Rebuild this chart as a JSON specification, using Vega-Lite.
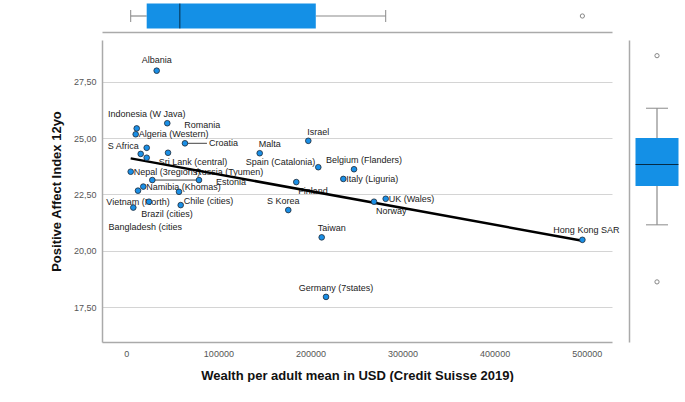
{
  "$schema": "https://vega.github.io/schema/vega-lite/v6.json",
  "background": "white",
  "padding": {"left": 50, "top": 0, "right": 0, "bottom": 0},
  "config": {
    "view": {"stroke": null},
    "font": "Liberation Sans",
    "text": {"fontSize": 9, "color": "#222", "baseline": "middle", "font": "Liberation Sans"}
  },
  "datasets": {
    "pts": [
      {"label": "Albania", "wealth": 33000, "pai": 27.99},
      {"label": "Indonesia (W Java)", "wealth": 11300, "pai": 25.43},
      {"label": "Algeria (Western)", "wealth": 10200, "pai": 25.17},
      {"label": "Romania", "wealth": 44500, "pai": 25.66},
      {"label": "Croatia", "wealth": 63700, "pai": 24.77},
      {"label": "S Africa", "wealth": 22150, "pai": 24.57},
      {"label": "", "wealth": 15640, "pai": 24.30},
      {"label": "Sri Lank (central)", "wealth": 22150, "pai": 24.13},
      {"label": "", "wealth": 45300, "pai": 24.35},
      {"label": "Nepal (3regions)", "wealth": 4780, "pai": 23.51},
      {"label": "Russia (Tyumen)", "wealth": 28240, "pai": 23.14},
      {"label": "Estonia", "wealth": 78950, "pai": 23.14},
      {"label": "Namibia (Khomas)", "wealth": 18460, "pai": 22.85},
      {"label": "", "wealth": 12700, "pai": 22.67},
      {"label": "Brazil (cities)", "wealth": 57230, "pai": 22.62},
      {"label": "Bangladesh (cities", "wealth": 7600, "pai": 21.92},
      {"label": "Vietnam (North)", "wealth": 24650, "pai": 22.18},
      {"label": "Chile (cities)", "wealth": 59080, "pai": 22.03},
      {"label": "Israel", "wealth": 197650, "pai": 24.88},
      {"label": "Malta", "wealth": 144870, "pai": 24.33},
      {"label": "Spain (Catalonia)", "wealth": 208500, "pai": 23.71},
      {"label": "Belgium (Flanders)", "wealth": 247300, "pai": 23.62},
      {"label": "Italy (Liguria)", "wealth": 235700, "pai": 23.19},
      {"label": "Finland", "wealth": 184600, "pai": 23.05},
      {"label": "UK (Wales)", "wealth": 281700, "pai": 22.31},
      {"label": "Norway", "wealth": 269000, "pai": 22.18},
      {"label": "S Korea", "wealth": 175900, "pai": 21.81},
      {"label": "Taiwan", "wealth": 212200, "pai": 20.60},
      {"label": "Hong Kong SAR", "wealth": 495300, "pai": 20.49},
      {"label": "Germany (7states)", "wealth": 216900, "pai": 17.96}
    ]
  },
  "columns": 2,
  "spacing": {"row": 8, "column": 17},
  "bounds": "flush",
  "concat": [
    {
      "width": 510,
      "height": 32,
      "data": {"name": "pts"},
      "mark": {
        "type": "boxplot",
        "extent": 1.5,
        "size": 25,
        "color": "#1490E6",
        "median": {"color": "black", "strokeWidth": 1.5},
        "rule": {"color": "#8a8a8a", "strokeWidth": 1.2},
        "ticks": {"color": "#8a8a8a", "size": 12},
        "outliers": {"filled": false, "color": "#555", "size": 18, "strokeWidth": 1}
      },
      "encoding": {
        "x": {
          "field": "wealth", "type": "quantitative",
          "scale": {"domain": [-26390, 527470], "nice": false, "zero": false},
          "axis": {"labels": false, "ticks": false, "grid": false, "title": null, "domainColor": "#aaaaaa", "domainWidth": 1.5}
        }
      }
    },
    {
      "width": 56,
      "height": 32,
      "data": {"values": [{"a": 1}]},
      "mark": {"type": "point", "opacity": 0},
      "encoding": {}
    },
    {
      "width": 510,
      "height": 302,
      "data": {"name": "pts"},
      "encoding": {
        "x": {
          "field": "wealth", "type": "quantitative",
          "scale": {"domain": [-26390, 527470], "nice": false, "zero": false},
          "axis": {
            "values": [0, 100000, 200000, 300000, 400000, 500000],
            "format": "d", "ticks": false, "grid": false,
            "labelPadding": 7, "labelFontSize": 9, "labelColor": "#555", "labelFont": "Liberation Sans",
            "domainColor": "#aaaaaa", "domainWidth": 1.5,
            "title": "Wealth per adult mean in USD (Credit Suisse 2019)",
            "titleFontSize": 13, "titleFontWeight": "bold", "titleColor": "#111", "titleFont": "Liberation Sans", "titlePadding": 11
          }
        },
        "y": {
          "field": "pai", "type": "quantitative",
          "scale": {"domain": [15.96, 29.35], "nice": false, "zero": false},
          "axis": {
            "values": [17.5, 20, 22.5, 25, 27.5],
            "labelExpr": "replace(format(datum.value, '.2f'), '.', ',')",
            "ticks": false, "grid": true, "gridColor": "#d4d4d4", "gridWidth": 1,
            "labelPadding": 6, "labelFontSize": 9, "labelColor": "#555", "labelFont": "Liberation Sans",
            "domainColor": "#aaaaaa", "domainWidth": 1.5,
            "title": "Positive Affect Index 12yo",
            "titleFontSize": 13, "titleFontWeight": "bold", "titleColor": "#111", "titleFont": "Liberation Sans", "titlePadding": 10
          }
        }
      },
      "layer": [
        {"transform": [{"filter": "datum.label === 'Croatia'"}], "mark": {"type": "rule", "x2Offset": 22, "color": "#444", "strokeWidth": 1}, "encoding": {"x2": {"field": "wealth"}}},
        {"transform": [{"filter": "datum.label === 'Russia (Tyumen)'"}], "mark": {"type": "rule", "x2Offset": 47, "color": "#444", "strokeWidth": 1}, "encoding": {"x2": {"field": "wealth"}}},
        {"transform": [{"filter": {"field": "label", "oneOf": ["Albania"]}}], "mark": {"type": "text", "align": "center", "dx": 0, "dy": -11}, "encoding": {"text": {"field": "label"}}},
        {"transform": [{"filter": {"field": "label", "oneOf": ["Hong Kong SAR"]}}], "mark": {"type": "text", "align": "center", "dx": 4, "dy": -10}, "encoding": {"text": {"field": "label"}}},
        {"transform": [{"filter": {"field": "label", "oneOf": ["S Korea"]}}], "mark": {"type": "text", "align": "center", "dx": -5, "dy": -9}, "encoding": {"text": {"field": "label"}}},
        {"transform": [{"filter": {"field": "label", "oneOf": ["Germany (7states)", "Israel", "Malta", "Belgium (Flanders)", "Taiwan"]}}], "mark": {"type": "text", "align": "center", "dx": 10, "dy": -9}, "encoding": {"text": {"field": "label"}}},
        {"transform": [{"filter": {"field": "label", "oneOf": ["Indonesia (W Java)"]}}], "mark": {"type": "text", "align": "center", "dx": 10, "dy": -14}, "encoding": {"text": {"field": "label"}}},
        {"transform": [{"filter": {"field": "label", "oneOf": ["Algeria (Western)", "Italy (Liguria)", "UK (Wales)", "Nepal (3regions)", "Namibia (Khomas)"]}}], "mark": {"type": "text", "align": "left", "dx": 3, "dy": 0}, "encoding": {"text": {"field": "label"}}},
        {"transform": [{"filter": {"field": "label", "oneOf": ["Romania", "Estonia"]}}], "mark": {"type": "text", "align": "left", "dx": 17, "dy": 2}, "encoding": {"text": {"field": "label"}}},
        {"transform": [{"filter": {"field": "label", "oneOf": ["Croatia"]}}], "mark": {"type": "text", "align": "left", "dx": 24, "dy": 0}, "encoding": {"text": {"field": "label"}}},
        {"transform": [{"filter": {"field": "label", "oneOf": ["Finland", "Norway"]}}], "mark": {"type": "text", "align": "left", "dx": 2, "dy": 9}, "encoding": {"text": {"field": "label"}}},
        {"transform": [{"filter": {"field": "label", "oneOf": ["S Africa"]}}], "mark": {"type": "text", "align": "right", "dx": -8, "dy": -2}, "encoding": {"text": {"field": "label"}}},
        {"transform": [{"filter": {"field": "label", "oneOf": ["Spain (Catalonia)"]}}], "mark": {"type": "text", "align": "right", "dx": -3, "dy": -5}, "encoding": {"text": {"field": "label"}}},
        {"transform": [{"filter": {"field": "label", "oneOf": ["Sri Lank (central)"]}}], "mark": {"type": "text", "align": "left", "dx": 12, "dy": 4}, "encoding": {"text": {"field": "label"}}},
        {"transform": [{"filter": {"field": "label", "oneOf": ["Russia (Tyumen)"]}}], "mark": {"type": "text", "align": "left", "dx": 43, "dy": -8}, "encoding": {"text": {"field": "label"}}},
        {"transform": [{"filter": {"field": "label", "oneOf": ["Bangladesh (cities"]}}], "mark": {"type": "text", "align": "center", "dx": 12, "dy": 19}, "encoding": {"text": {"field": "label"}}},
        {"transform": [{"filter": {"field": "label", "oneOf": ["Vietnam (North)"]}}], "mark": {"type": "text", "align": "center", "dx": -11, "dy": 0}, "encoding": {"text": {"field": "label"}}},
        {"transform": [{"filter": {"field": "label", "oneOf": ["Chile (cities)"]}}], "mark": {"type": "text", "align": "left", "dx": 3, "dy": -4}, "encoding": {"text": {"field": "label"}}},
        {"transform": [{"filter": {"field": "label", "oneOf": ["Brazil (cities)"]}}], "mark": {"type": "text", "align": "center", "dx": -12, "dy": 22}, "encoding": {"text": {"field": "label"}}},
        {"transform": [{"regression": "pai", "on": "wealth"}], "mark": {"type": "line", "color": "black", "strokeWidth": 2.5}},
        {"mark": {"type": "circle", "size": 32, "color": "#1a8fe6", "opacity": 1, "stroke": "#1f2a36", "strokeWidth": 0.8}},
        {
          "data": {"values": [{"t": "Adjusted R2 linear = .194"}]},
          "mark": {"type": "rect", "fill": "white", "stroke": "black", "strokeWidth": 2},
          "encoding": {"x": {"datum": 337400}, "x2": {"datum": 527000}, "y": {"datum": 26.02}, "y2": {"datum": 25.27}}
        },
        {
          "data": {"values": [{"t": "Adjusted R2 linear = .194"}]},
          "mark": {"type": "text", "fontSize": 11, "color": "#333"},
          "encoding": {"x": {"datum": 435000}, "y": {"datum": 25.6}, "text": {"field": "t"}}
        }
      ]
    },
    {
      "width": 56,
      "height": 302,
      "data": {"name": "pts"},
      "mark": {
        "type": "boxplot",
        "extent": 1.5,
        "size": 43,
        "color": "#1490E6",
        "median": {"color": "black", "strokeWidth": 1.5},
        "rule": {"color": "#8a8a8a", "strokeWidth": 1.2},
        "ticks": {"color": "#8a8a8a", "size": 22},
        "outliers": {"filled": false, "color": "#555", "size": 18, "strokeWidth": 1}
      },
      "encoding": {
        "y": {
          "field": "pai", "type": "quantitative",
          "scale": {"domain": [15.295, 28.685], "nice": false, "zero": false},
          "axis": {"labels": false, "ticks": false, "grid": false, "title": null, "domainColor": "#aaaaaa", "domainWidth": 1.5}
        }
      }
    }
  ]
}
